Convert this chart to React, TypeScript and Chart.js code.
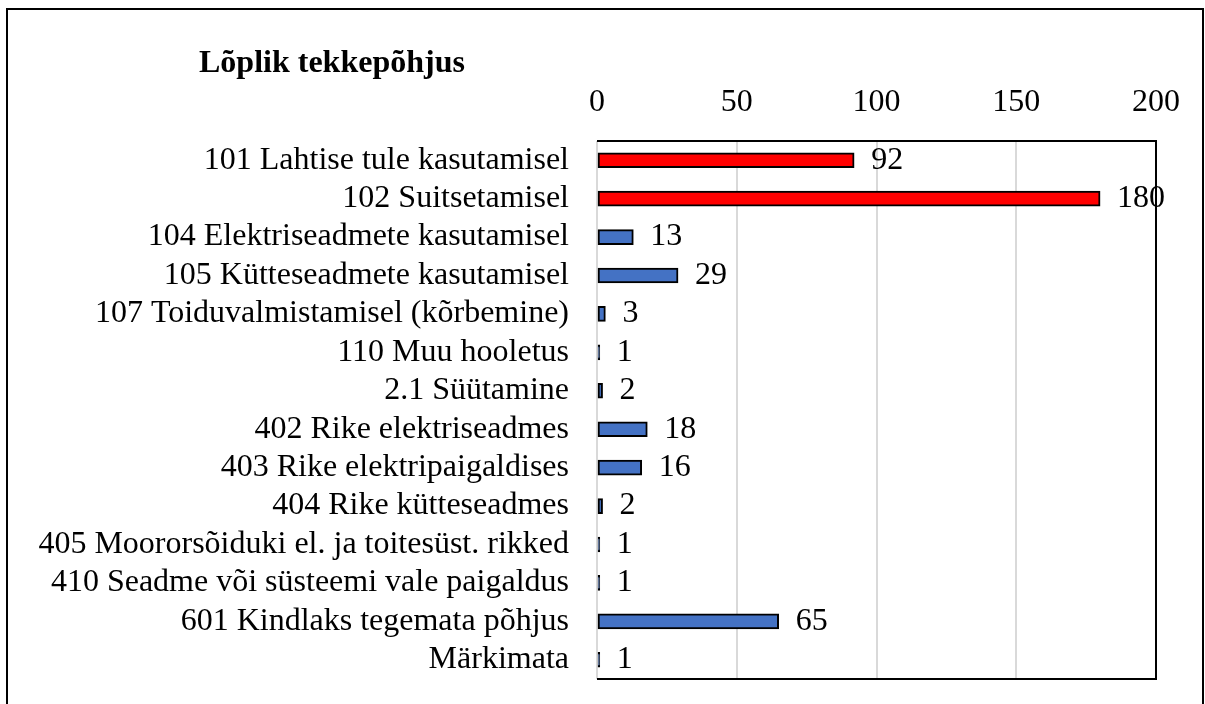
import React, { useEffect, useRef } from "react";
import { Chart, registerables } from "chart.js";

Chart.register(...registerables);

const categories: string[] = [
  "101 Lahtise tule kasutamisel",
  "102 Suitsetamisel",
  "104 Elektriseadmete kasutamisel",
  "105 Kütteseadmete kasutamisel",
  "107 Toiduvalmistamisel (kõrbemine)",
  "110 Muu hooletus",
  "2.1 Süütamine",
  "402 Rike elektriseadmes",
  "403 Rike elektripaigaldises",
  "404 Rike kütteseadmes",
  "405 Moororsõiduki el. ja toitesüst. rikked",
  "410 Seadme või süsteemi vale paigaldus",
  "601 Kindlaks tegemata põhjus",
  "Märkimata",
];

const values: number[] = [92, 180, 13, 29, 3, 1, 2, 18, 16, 2, 1, 1, 65, 1];

const highlighted: boolean[] = [true, true, false, false, false, false, false, false, false, false, false, false, false, false];

const xTicks: number[] = [0, 50, 100, 150, 200];

const chartTitle = "Lõplik tekkepõhjus";

const FONT = "'Liberation Serif', 'Times New Roman', serif";

export default function App() {
  const ref = useRef<HTMLCanvasElement | null>(null);

  useEffect(() => {
    if (!ref.current) return;

    const framePlugin = {
      id: "framePlugin",
      beforeDraw(chart: any) {
        const ctx = chart.ctx;
        ctx.save();
        ctx.fillStyle = "#ffffff";
        ctx.fillRect(0, 0, chart.width, chart.height);
        ctx.strokeStyle = "#000000";
        ctx.lineWidth = 2;
        ctx.strokeRect(7, 9, 1196, 720);
        ctx.fillStyle = "#000000";
        ctx.font = `bold 32px ${FONT}`;
        ctx.textAlign = "left";
        ctx.textBaseline = "alphabetic";
        ctx.fillText(chartTitle, 199, 72);
        ctx.restore();
      },
      afterDatasetsDraw(chart: any) {
        const ctx = chart.ctx;
        const a = chart.chartArea;
        ctx.save();
        ctx.strokeStyle = "#000000";
        ctx.lineWidth = 2;
        ctx.beginPath();
        ctx.moveTo(a.left, a.top);
        ctx.lineTo(a.right, a.top);
        ctx.lineTo(a.right, a.bottom);
        ctx.lineTo(a.left, a.bottom);
        ctx.stroke();
        const meta = chart.getDatasetMeta(0);
        ctx.fillStyle = "#000000";
        ctx.font = `32px ${FONT}`;
        ctx.textAlign = "left";
        ctx.textBaseline = "middle";
        meta.data.forEach((bar: any, i: number) => {
          ctx.fillText(String(values[i]), bar.x + 17, bar.y);
        });
        ctx.restore();
      },
    };

    const chart = new Chart(ref.current, {
      type: "bar",
      data: {
        labels: categories,
        datasets: [
          {
            data: values,
            backgroundColor: highlighted.map((h) => (h ? "#FF0000" : "#4472C4")),
            borderColor: "#000000",
            borderWidth: 2,
            borderSkipped: false,
            barThickness: 15,
          },
        ],
      },
      options: {
        indexAxis: "y",
        animation: false,
        responsive: false,
        maintainAspectRatio: false,
        layout: { padding: { top: 0, left: 0, right: 49, bottom: 25 } },
        plugins: {
          legend: { display: false },
          tooltip: { enabled: false },
          title: { display: false },
        },
        scales: {
          x: {
            position: "top",
            min: xTicks[0],
            max: xTicks[xTicks.length - 1],
            afterBuildTicks: (scale: any) => {
              scale.ticks = xTicks.map((v) => ({ value: v }));
            },
            ticks: {
              color: "#000000",
              font: { family: FONT, size: 32 },
              padding: 19,
              maxRotation: 0,
            },
            grid: { color: "#d9d9d9", lineWidth: 2, drawTicks: false },
            border: { display: false },
            afterFit: (scale: any) => {
              scale.height = 141;
              scale.paddingLeft = 0;
              scale.paddingRight = 0;
            },
          },
          y: {
            ticks: {
              autoSkip: false,
              color: "#000000",
              font: { family: FONT, size: 32 },
              padding: 28,
            },
            grid: { display: false, drawTicks: false },
            border: { display: false },
            afterFit: (scale: any) => {
              scale.width = 597;
              scale.paddingTop = 0;
              scale.paddingBottom = 0;
            },
          },
        },
      },
      plugins: [framePlugin],
    } as any);

    return () => chart.destroy();
  }, []);

  return (
    <div style={{ position: "absolute", left: 0, top: 0, width: 1205, height: 704 }}>
      <canvas ref={ref} width={1205} height={704} style={{ display: "block" }} />
    </div>
  );
}
